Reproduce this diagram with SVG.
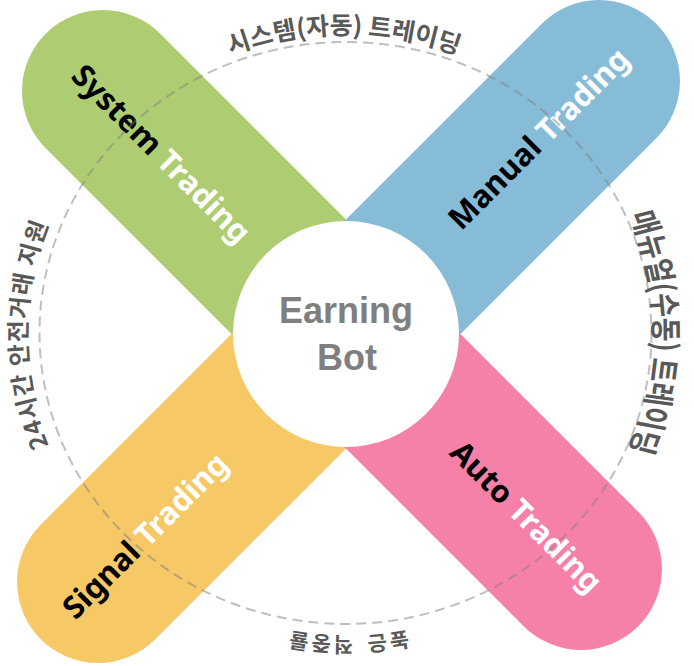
<svg xmlns="http://www.w3.org/2000/svg" width="694" height="666" viewBox="0 0 694 666">
<style>
.label{font-family:"Noto Sans","Liberation Sans",sans-serif;font-weight:700;font-size:31px;text-anchor:middle}
.dark{fill:#000}
.light{fill:#fff}
.ring{font-family:"Noto Sans CJK KR","Noto Sans",sans-serif;font-weight:700;fill:#595959;text-anchor:middle}
.core{font-family:"Liberation Sans",Arial,sans-serif;font-weight:700;font-size:36px;fill:#7f7f7f;text-anchor:middle}
</style>
<defs>
<path id="arcTop" d="M32,333 A312,298.5 0 0 1 656,333"/>
<path id="arcRight" d="M345.5,34.5 A246.8,298 0 0 1 345.5,630.5"/>
<path id="arcBottom" d="M660,333 A312,304 0 0 1 36,333"/>
<path id="arcLeft" d="M345.5,639.5 A318.5,305 0 0 1 345.5,29.5"/>
</defs>
<g id="system-trading">
<path transform="translate(346,334) rotate(225)" d="M0,-81 H343.7 A81,81 0 0 1 343.7,81 H0 Z" fill="#AECD72"/>
<text class="label" transform="translate(160,155) rotate(45)" y="9"><tspan class="dark">System</tspan><tspan class="light"> Trading</tspan></text>
</g>
<g id="manual-trading">
<path transform="translate(346,334) rotate(-45)" d="M0,-81 H357.8 A81,81 0 0 1 357.8,81 H0 Z" fill="#87BCD8"/>
<text class="label" transform="translate(540,140) rotate(-45)" y="9"><tspan class="dark">Manual</tspan><tspan class="light"> Trading</tspan></text>
</g>
<g id="signal-trading">
<path transform="translate(346,334) rotate(135)" d="M0,-81 H350.7 A81,81 0 0 1 350.7,81 H0 Z" fill="#F6C866"/>
<text class="label" transform="translate(146.5,537) rotate(-45)" y="9"><tspan class="dark">Signal</tspan><tspan class="light"> Trading</tspan></text>
</g>
<g id="auto-trading">
<path transform="translate(346,334) rotate(45)" d="M0,-81 H332.3 A81,81 0 0 1 332.3,81 H0 Z" fill="#F681A8"/>
<text class="label" transform="translate(525,518) rotate(45)" y="9"><tspan class="dark">Auto</tspan><tspan class="light"> Trading</tspan></text>
</g>
<g id="connectors">
<ellipse cx="345.5" cy="333" rx="306" ry="291" fill="none" stroke="#808080" stroke-opacity="0.5" stroke-width="2" stroke-dasharray="10 6"/>
</g>
<g id="ring-labels">
<text class="ring" font-size="25"><textPath href="#arcTop" startOffset="50%">시스템(자동) 트레이딩</textPath></text>
<g transform="matrix(1.25,0,0,1,-86.375,0)">
<text class="ring" font-size="26"><textPath href="#arcRight" startOffset="50%">매뉴얼(수동) 트레이딩</textPath></text>
</g>
<text class="ring" font-size="21" letter-spacing="2.5" word-spacing="4"><textPath href="#arcBottom" startOffset="50%">높은 적중률</textPath></text>
<text class="ring" font-size="24" letter-spacing="1"><textPath href="#arcLeft" startOffset="50%">24시간 안전거래 지원</textPath></text>
</g>
<g id="earning-bot">
<circle cx="346" cy="334" r="113" fill="#fff"/>
<text class="core" x="346" y="323">Earning</text>
<text class="core" x="347" y="370">Bot</text>
</g>
</svg>
